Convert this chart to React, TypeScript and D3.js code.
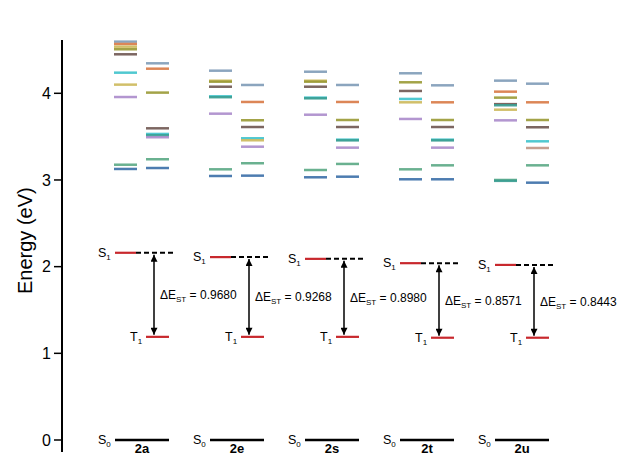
import React from 'react';
import * as d3 from 'd3';

const compounds = ['2a', '2e', '2s', '2t', '2u'];
const deltaEST = ['0.9680', '0.9268', '0.8980', '0.8571', '0.8443'];
const s1Energy = [2.16, 2.11, 2.09, 2.04, 2.02];
const t1Energy = [1.19, 1.19, 1.19, 1.18, 1.18];
const yTicks = [0, 1, 2, 3, 4];

const palette: Record<string, string> = {
  gray: '#7f9cb8', orange: '#d97a45', olive: '#9a9a35', brown: '#6e5650',
  cyan: '#3ec3cc', teal: '#3a9e92', yellow: '#cdb95a', purple: '#ab8bcb',
  green: '#5aa985', blue: '#3a6ea8', tan: '#bf9585',
};

// Higher singlet states (left sub-column)
const singlet2a = [4.596, 4.569, 4.538, 4.508, 4.450, 4.238, 4.100, 3.957, 3.176, 3.127];
const singlet2aColors = ['gray', 'orange', 'yellow', 'olive', 'brown', 'cyan', 'yellow', 'purple', 'green', 'blue'];
const singlet2e = [4.261, 4.145, 4.134, 4.076, 3.965, 3.955, 3.765, 3.123, 3.046];
const singlet2eColors = ['gray', 'yellow', 'olive', 'brown', 'cyan', 'teal', 'purple', 'green', 'blue'];
const singlet2s = [4.249, 4.145, 4.134, 4.076, 3.950, 3.942, 3.753, 3.115, 3.031];
const singlet2sColors = ['gray', 'yellow', 'olive', 'brown', 'cyan', 'teal', 'purple', 'green', 'blue'];
const singlet2t = [4.231, 4.127, 4.027, 3.935, 3.896, 3.704, 3.123, 3.008];
const singlet2tColors = ['gray', 'olive', 'brown', 'cyan', 'yellow', 'purple', 'green', 'blue'];
const singlet2u = [4.146, 4.019, 3.950, 3.875, 3.862, 3.811, 3.688, 3.000, 2.990];
const singlet2uColors = ['gray', 'orange', 'olive', 'brown', 'teal', 'yellow', 'purple', 'green', 'teal'];

// Higher triplet states (right sub-column)
const triplet2a = [4.346, 4.284, 4.008, 3.596, 3.531, 3.515, 3.493, 3.239, 3.138];
const triplet2aColors = ['gray', 'orange', 'olive', 'brown', 'cyan', 'teal', 'purple', 'green', 'blue'];
const triplet2e = [4.096, 3.900, 3.689, 3.611, 3.481, 3.458, 3.384, 3.193, 3.050];
const triplet2eColors = ['gray', 'orange', 'olive', 'brown', 'cyan', 'yellow', 'purple', 'green', 'blue'];
const triplet2s = [4.096, 3.900, 3.692, 3.611, 3.465, 3.457, 3.373, 3.185, 3.038];
const triplet2sColors = ['gray', 'orange', 'olive', 'brown', 'cyan', 'teal', 'purple', 'green', 'blue'];
const triplet2t = [4.092, 3.896, 3.692, 3.611, 3.465, 3.457, 3.373, 3.169, 3.008];
const triplet2tColors = ['gray', 'orange', 'olive', 'brown', 'cyan', 'teal', 'purple', 'green', 'blue'];
const triplet2u = [4.111, 3.896, 3.692, 3.608, 3.446, 3.369, 3.169, 2.969];
const triplet2uColors = ['gray', 'orange', 'olive', 'brown', 'cyan', 'tan', 'green', 'blue'];

const singlets = [singlet2a, singlet2e, singlet2s, singlet2t, singlet2u];
const singletColors = [singlet2aColors, singlet2eColors, singlet2sColors, singlet2tColors, singlet2uColors];
const triplets = [triplet2a, triplet2e, triplet2s, triplet2t, triplet2u];
const tripletColors = [triplet2aColors, triplet2eColors, triplet2sColors, triplet2tColors, triplet2uColors];

const W = 626, H = 455;
const FONT = 'Liberation Sans, Arial, sans-serif';

export default function App() {
  const y = d3.scaleLinear().domain([0, 4]).range([440, 93.3]);
  const x = d3.scaleBand().domain(compounds).range([115, 590]).paddingInner(0).paddingOuter(0);
  const axisX = 62;
  const axisTop = 40;
  const axisBottom = 452;

  return (
    <svg width={W} height={H} style={{ position: 'absolute', left: 0, top: 0, background: '#fff' }} fontFamily={FONT}>
      <defs>
        <marker id="ah" viewBox="0 0 10 10" refX="10" refY="5" markerWidth="8" markerHeight="7" orient="auto-start-reverse" markerUnits="userSpaceOnUse">
          <path d="M0,0 L10,5 L0,10 z" fill="#000" />
        </marker>
      </defs>
      {/* axis */}
      <line x1={axisX} x2={axisX} y1={axisTop} y2={axisBottom} stroke="#000" strokeWidth={2} />
      {yTicks.map((t) => (
        <g key={t}>
          <line x1={axisX - 8} x2={axisX} y1={y(t)} y2={y(t)} stroke="#000" strokeWidth={1.5} />
          <text x={axisX - 11} y={y(t)} dy="0.36em" textAnchor="end" fontSize={16} fill="#000">{t}</text>
        </g>
      ))}
      <text transform={`translate(25,${y(2.3)}) rotate(-90)`} textAnchor="middle" dy="0.35em" fontSize={20} fill="#000">Energy (eV)</text>

      {compounds.map((c, i) => {
        const x0 = x(c)!;
        const sx1 = x0 - 1, sx2 = x0 + 22;
        const tx1 = x0 + 31, tx2 = x0 + 54;
        const ys1 = y(s1Energy[i]);
        const yt1 = y(t1Energy[i]);
        const ax = x0 + 39;
        return (
          <g key={c}>
            {singlets[i].map((e, j) => (
              <line key={'s' + j} x1={sx1} x2={sx2} y1={y(e)} y2={y(e)} stroke={palette[singletColors[i][j]]} strokeWidth={2.5} opacity={0.9} />
            ))}
            {triplets[i].map((e, j) => (
              <line key={'t' + j} x1={tx1} x2={tx2} y1={y(e)} y2={y(e)} stroke={palette[tripletColors[i][j]]} strokeWidth={2.5} opacity={0.9} />
            ))}
            {/* S0 */}
            <line x1={x0} x2={x0 + 54} y1={y(0)} y2={y(0)} stroke="#000" strokeWidth={2.5} />
            <text x={x0 - 17} y={y(0) + 4} fontSize={12.5} fill="#000">S<tspan fontSize={8} dy={3}>0</tspan></text>
            <text x={x0 + 27} y={453} textAnchor="middle" fontSize={13} fontWeight="bold" fill="#000">{c}</text>
            {/* S1 */}
            <line x1={x0} x2={x0 + 21} y1={ys1} y2={ys1} stroke="#c8282d" strokeWidth={2.2} />
            <line x1={x0 + 21} x2={x0 + 59} y1={ys1} y2={ys1} stroke="#000" strokeWidth={2} strokeDasharray="5,3" />
            <text x={x0 - 17} y={ys1 + 4} fontSize={12.5} fill="#000">S<tspan fontSize={8} dy={3}>1</tspan></text>
            {/* T1 */}
            <line x1={tx1} x2={tx2} y1={yt1} y2={yt1} stroke="#c8282d" strokeWidth={2.2} />
            <text x={x0 + 15} y={yt1 + 4} fontSize={12.5} fill="#000">T<tspan fontSize={8} dy={3}>1</tspan></text>
            {/* arrow */}
            <line x1={ax} x2={ax} y1={ys1 + 2} y2={yt1 - 2} stroke="#000" strokeWidth={1.5} markerStart="url(#ah)" markerEnd="url(#ah)" />
            <text x={x0 + 45} y={(ys1 + yt1) / 2} dy="0.35em" fontSize={12} fill="#000">
              ΔE<tspan fontSize={8} dy={3}>ST</tspan><tspan dy={-3}> = {deltaEST[i]}</tspan>
            </text>
          </g>
        );
      })}
    </svg>
  );
}
